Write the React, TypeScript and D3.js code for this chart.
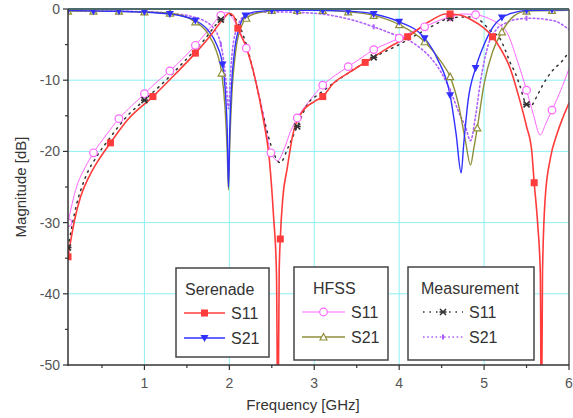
import React from "react";
import * as d3 from "d3";

// Serenade / HFSS / Measurement data, frequency in GHz, magnitude in dB
const serenadeS11: [number, number][] = [
  [0.1, -34.8], [0.18, -29.5], [0.25, -26.3], [0.35, -23.5], [0.45, -21.4], [0.6, -18.8],
  [0.8, -15.6], [1.1, -12.3], [1.35, -9.3], [1.6, -6.2], [1.8, -3.4], [1.92, -1.5],
  [2.0, -0.6], [2.05, -1.0], [2.1, -2.7], [2.2, -5.4], [2.3, -9.6], [2.4, -15.5],
  [2.47, -21], [2.52, -29], [2.555, -37], [2.572, -60], [2.587, -37], [2.6, -32.3],
  [2.63, -26.5], [2.68, -22.5], [2.75, -17.5], [2.85, -14.6], [3.0, -13], [3.1, -12.3],
  [3.22, -10.5], [3.4, -9], [3.6, -7.5], [3.85, -5.6], [4.1, -3.9], [4.35, -1.8],
  [4.55, -0.7], [4.7, -0.8], [4.85, -1.5], [5.0, -2.7], [5.1, -3.9], [5.2, -5.7],
  [5.3, -8.1], [5.42, -12.8], [5.5, -16.5], [5.56, -19.8], [5.59, -24.4], [5.63, -30],
  [5.662, -37], [5.675, -60], [5.688, -37], [5.72, -26.5], [5.78, -21], [5.86, -17.5],
  [5.93, -15.2], [6.0, -13.2],
];
const serenadeS21: [number, number][] = [
  [0.1, -0.2], [0.5, -0.3], [0.9, -0.4], [1.2, -0.6], [1.4, -0.9], [1.6, -1.6],
  [1.75, -3], [1.85, -5], [1.92, -7.8], [1.955, -12], [1.975, -17], [1.99, -25],
  [2.005, -17], [2.025, -11], [2.06, -6], [2.12, -2.5], [2.19, -0.9], [2.3, -0.4],
  [2.6, -0.2], [3.0, -0.2], [3.4, -0.3], [3.7, -0.7], [4.0, -1.8], [4.3, -4.1],
  [4.45, -7], [4.6, -12.1], [4.67, -17.5], [4.73, -23], [4.76, -19], [4.81, -13],
  [4.9, -8.3], [5.0, -5], [5.1, -2.6], [5.21, -1.2], [5.35, -0.5], [5.5, -0.2], [6.0, -0.1],
];
const hfssS11: [number, number][] = [
  [0.1, -30], [0.2, -25], [0.3, -22.3], [0.4, -20.2], [0.55, -17.7], [0.7, -15.4],
  [0.85, -13.6], [1.0, -11.9], [1.15, -10.2], [1.3, -8.7], [1.45, -7], [1.6, -5.1],
  [1.75, -3], [1.9, -0.9], [1.97, -0.5], [2.05, -1.5], [2.2, -5.5], [2.3, -9.5],
  [2.4, -14.8], [2.49, -20.2], [2.57, -21.3], [2.65, -19.5], [2.72, -17.2], [2.8, -15.3],
  [2.95, -12.8], [3.1, -10.7], [3.25, -9.3], [3.4, -8.1], [3.55, -6.9], [3.7, -5.7],
  [3.85, -4.9], [4.0, -4.1], [4.15, -3.2], [4.3, -2.5], [4.45, -1.7], [4.6, -1.1],
  [4.75, -0.7], [4.9, -0.8], [5.05, -1.3], [5.18, -2.2], [5.27, -3.3], [5.39, -7.2],
  [5.5, -11.4], [5.58, -14.8], [5.66, -17.7], [5.73, -16], [5.8, -14.2], [5.9, -11.5],
  [6.0, -8.4],
];
const hfssS21: [number, number][] = [
  [0.1, -0.3], [0.5, -0.3], [0.9, -0.4], [1.3, -0.6], [1.6, -1.8], [1.75, -3.5],
  [1.85, -6], [1.91, -9], [1.95, -14], [1.975, -20], [1.99, -25.4], [2.005, -19],
  [2.03, -12], [2.08, -5.5], [2.14, -2.5], [2.2, -1.3], [2.35, -0.5], [2.6, -0.2],
  [3.0, -0.2], [3.4, -0.4], [3.7, -0.9], [4.0, -2.2], [4.3, -4.6], [4.5, -7.5],
  [4.6, -9.5], [4.7, -13.5], [4.78, -18.5], [4.84, -21.9], [4.88, -19.5], [4.92, -16.7],
  [5.0, -10.5], [5.1, -6], [5.21, -3.2], [5.35, -1], [5.5, -0.3], [6.0, -0.2],
];
const measS11: [number, number][] = [
  [0.1, -33.5], [0.2, -27.5], [0.3, -23.8], [0.45, -20.5], [0.6, -18], [0.8, -15],
  [1.0, -12.8], [1.2, -10.6], [1.45, -7.6], [1.7, -4.4], [1.9, -1.5], [2.0, -0.8],
  [2.08, -1.5], [2.2, -5], [2.32, -10.7], [2.42, -16], [2.5, -19.5], [2.6, -21.6],
  [2.69, -19.5], [2.8, -16.5], [2.93, -13.2], [3.05, -12], [3.3, -9.8], [3.7, -6.8],
  [4.0, -5], [4.3, -3], [4.6, -1.3], [4.8, -1.1], [4.95, -1.6], [5.07, -3],
  [5.19, -4.2], [5.25, -5.8], [5.31, -7.6], [5.36, -8.8], [5.42, -10.7], [5.49, -13.2],
  [5.55, -13.6], [5.62, -12.3], [5.68, -10.9], [5.74, -9.7], [5.81, -8.6], [5.92, -7.3],
  [6.0, -6.0],
];
const measS21: [number, number][] = [
  [0.1, -0.3], [0.6, -0.3], [1.0, -0.4], [1.3, -0.6], [1.6, -1.2], [1.8, -2.5],
  [1.9, -5], [1.96, -10], [1.99, -14], [2.02, -8], [2.08, -3], [2.2, -0.8],
  [2.5, -0.4], [3.0, -0.6], [3.4, -1.4], [3.7, -2.5], [3.9, -3.4], [4.1, -4.3],
  [4.25, -5.5], [4.36, -6.7], [4.5, -9], [4.62, -12], [4.72, -15], [4.78, -16.5],
  [4.84, -18.5], [4.9, -15], [4.96, -10], [5.05, -5], [5.15, -2.8], [5.25, -2],
  [5.36, -1.5], [5.55, -1.3], [5.75, -1.5], [5.86, -1.8], [6.0, -2.9],
];

// marker positions on each curve
const serenadeS11Marks: [number, number][] = [
  [0.1, -34.8], [0.6, -18.8], [1.1, -12.3], [1.6, -6.2], [2.1, -2.7], [2.6, -32.3],
  [3.1, -12.3], [3.6, -7.5], [4.1, -3.9], [4.6, -0.7], [5.1, -3.9], [5.59, -24.4],
];
const serenadeS21Marks: [number, number][] = [
  [0.1, -0.2], [0.4, -0.3], [0.7, -0.3], [1.0, -0.4], [1.3, -0.7], [1.6, -1.6],
  [1.92, -7.8], [2.19, -0.9], [2.5, -0.2], [2.8, -0.2], [3.1, -0.2], [3.4, -0.3],
  [3.7, -0.7], [4.0, -1.8], [4.3, -4.1], [4.6, -12.1], [4.9, -8.3], [5.21, -1.2],
  [5.5, -0.2], [5.8, -0.1],
];
const hfssS11Marks: [number, number][] = [
  [0.1, -30], [0.4, -20.2], [0.7, -15.4], [1.0, -11.9], [1.3, -8.7], [1.6, -5.1],
  [1.9, -0.9], [2.2, -5.5], [2.49, -20.2], [2.8, -15.3], [3.1, -10.7], [3.4, -8.1],
  [3.7, -5.7], [4.0, -4.1], [4.3, -2.5], [4.6, -1.1], [4.9, -0.8], [5.5, -11.4],
  [5.8, -14.2],
];
const hfssS21Marks: [number, number][] = [
  [0.1, -0.3], [0.4, -0.3], [0.7, -0.3], [1.0, -0.4], [1.3, -0.6], [1.6, -1.8],
  [1.91, -9], [2.2, -1.3], [2.5, -0.2], [2.8, -0.2], [3.1, -0.2], [3.4, -0.4],
  [3.7, -0.9], [4.0, -2.2], [4.3, -4.6], [4.6, -9.5], [4.92, -16.7], [5.21, -3.2],
  [5.5, -0.3], [5.8, -0.2],
];
const measS11Marks: [number, number][] = [
  [0.1, -33.5], [1.0, -12.8], [1.9, -1.5], [2.8, -16.5], [3.7, -6.8], [4.6, -1.3], [5.5, -13.4],
];
const measS21Marks: [number, number][] = [
  [0.1, -0.3], [1.0, -0.4], [1.9, -5], [2.8, -0.5], [3.7, -2.5], [4.6, -11.5], [5.5, -1.3],
];

const legendGroups = ["Serenade", "HFSS", "Measurement"];
const legendRows = ["S11", "S21"];

const RED = "#ff3b3b";
const BLUE = "#3030ff";
const MAGENTA = "#ff66ff";
const OLIVE = "#8f8f3a";
const BLACK = "#333333";
const PURPLE = "#b060ff";
const GRID = "#8ef0f4";
const FONT = "'Liberation Sans', Arial, sans-serif";

const width = 573;
const height = 418;
const margin = { top: 9, right: 4, bottom: 53, left: 68 };

type Shape = "square" | "tdown" | "circle" | "tup" | "star" | "dot";

const Marker = ({ shape, cx, cy, color }: { shape: Shape; cx: number; cy: number; color: string }) => {
  if (shape === "square")
    return <rect x={cx - 3.5} y={cy - 3.5} width={7} height={7} fill={color} />;
  if (shape === "tdown")
    return <path d={`M${cx - 4},${cy - 3}L${cx + 4},${cy - 3}L${cx},${cy + 4}Z`} fill={color} />;
  if (shape === "tup")
    return (
      <path d={`M${cx - 3.5},${cy + 3}L${cx + 3.5},${cy + 3}L${cx},${cy - 3.5}Z`}
        fill="white" stroke={color} strokeWidth={1.2} />
    );
  if (shape === "circle")
    return <circle cx={cx} cy={cy} r={3.8} fill="white" stroke={color} strokeWidth={1.2} />;
  if (shape === "star")
    return (
      <g stroke={color} strokeWidth={1.6}>
        <line x1={cx - 3} y1={cy - 3} x2={cx + 3} y2={cy + 3} />
        <line x1={cx - 3} y1={cy + 3} x2={cx + 3} y2={cy - 3} />
        <line x1={cx - 3.5} y1={cy} x2={cx + 3.5} y2={cy} />
      </g>
    );
  return <rect x={cx - 1} y={cy - 2.5} width={2} height={5} fill={color} />;
};

const App = () => {
  const x = d3.scaleLinear().domain([0.1, 6]).range([margin.left, width - margin.right]);
  const y = d3.scaleLinear().domain([-50, 0]).range([height - margin.bottom, margin.top]);

  const line = d3
    .line<[number, number]>()
    .x((d) => x(d[0]))
    .y((d) => y(d[1]))
    .curve(d3.curveMonotoneX);

  const xMajor = x.ticks(6);
  const xMinor = x.ticks(12).filter((t) => !Number.isInteger(t));
  const yMajor = y.ticks(5);
  const yMinor = y.ticks(10).filter((t) => t % 10 !== 0);

  const series = [
    { data: measS21, marks: measS21Marks, color: PURPLE, width: 1.6, dash: "1.6,2.6", shape: "dot" as Shape },
    { data: hfssS11, marks: hfssS11Marks, color: MAGENTA, width: 1, dash: undefined, shape: "circle" as Shape },
    { data: measS11, marks: measS11Marks, color: BLACK, width: 1.5, dash: "1.5,5", shape: "star" as Shape },
    { data: hfssS21, marks: hfssS21Marks, color: OLIVE, width: 1.4, dash: undefined, shape: "tup" as Shape },
    { data: serenadeS21, marks: serenadeS21Marks, color: BLUE, width: 1.4, dash: undefined, shape: "tdown" as Shape },
    { data: serenadeS11, marks: serenadeS11Marks, color: RED, width: 1.6, dash: undefined, shape: "square" as Shape },
  ];

  // legend: [group][row] styles
  const legendStyles = [
    [series[5], series[4]],
    [series[1], series[3]],
    [series[2], series[0]],
  ];
  const legendBoxes = [
    { x: 176, y: 268, w: 93, h: 89, titleX: 185, lineX: 184, lineW: 41 },
    { x: 294, y: 267, w: 94, h: 93, titleX: 313, lineX: 302, lineW: 43 },
    { x: 408, y: 267, w: 126, h: 93, titleX: 421, lineX: 423, lineW: 40 },
  ];

  const x0 = margin.left;
  const x1 = width - margin.right;
  const y0 = height - margin.bottom;
  const y1 = margin.top;

  return (
    <svg width={width} height={height} style={{ position: "absolute", left: 0, top: 0, background: "white" }}
      fontFamily={FONT}>
      <defs>
        <clipPath id="plot">
          <rect x={x0} y={y1} width={x1 - x0} height={y0 - y1} />
        </clipPath>
      </defs>

      {/* grid */}
      {xMajor.filter((t) => t < 6).map((t) => (
        <line key={`gx${t}`} x1={x(t)} x2={x(t)} y1={y1} y2={y0} stroke={GRID} strokeWidth={1} />
      ))}
      {yMajor.filter((t) => t < 0 && t > -50).map((t) => (
        <line key={`gy${t}`} x1={x0} x2={x1} y1={y(t)} y2={y(t)} stroke={GRID} strokeWidth={1} />
      ))}

      {/* curves */}
      <g clipPath="url(#plot)">
        {series.map((s, i) => (
          <path key={`l${i}`} d={line(s.data) ?? ""} fill="none" stroke={s.color}
            strokeWidth={s.width} strokeDasharray={s.dash} strokeLinecap="round" />
        ))}
        {series.map((s, i) =>
          s.marks.map((m, j) => (
            <Marker key={`m${i}-${j}`} shape={s.shape} cx={x(m[0])} cy={y(m[1])} color={s.color} />
          ))
        )}
      </g>

      {/* frame */}
      <line x1={x0} x2={x1} y1={y1} y2={y1} stroke="#4f6a6a" strokeWidth={2} />
      <line x1={x1} x2={x1} y1={y1} y2={y0} stroke="#555" strokeWidth={1.5} />
      <line x1={x0} x2={x0} y1={y1} y2={y0 + 1} stroke="#333" strokeWidth={1.5} />
      <line x1={x0} x2={x1} y1={y0} y2={y0} stroke="#333" strokeWidth={1.5} />

      {/* y axis ticks */}
      {yMajor.map((t) => (
        <g key={`yt${t}`}>
          <line x1={x0 - 5} x2={x0} y1={y(t)} y2={y(t)} stroke="#333" strokeWidth={1.2} />
          <text x={x0 - 8} y={y(t)} dy="0.35em" textAnchor="end" fontSize={14} fill="#555">
            {t}
          </text>
        </g>
      ))}
      {yMinor.map((t) => (
        <line key={`ym${t}`} x1={x0 - 3} x2={x0} y1={y(t)} y2={y(t)} stroke="#333" strokeWidth={1.2} />
      ))}

      {/* x axis ticks */}
      {xMajor.map((t) => (
        <g key={`xt${t}`}>
          <line x1={x(t)} x2={x(t)} y1={y0} y2={y0 + 5} stroke="#333" strokeWidth={1.2} />
          <text x={x(t)} y={y0 + 23} textAnchor="middle" fontSize={14} fill="#555">
            {t}
          </text>
        </g>
      ))}
      {xMinor.map((t) => (
        <line key={`xm${t}`} x1={x(t)} x2={x(t)} y1={y0} y2={y0 + 3} stroke="#333" strokeWidth={1.2} />
      ))}

      {/* axis titles */}
      <text x={303} y={410} textAnchor="middle" fontSize={15} fill="#333">
        Frequency [GHz]
      </text>
      <text transform="translate(26,187) rotate(-90)" textAnchor="middle" fontSize={15} fill="#333">
        Magnitude [dB]
      </text>

      {/* legends */}
      {legendBoxes.map((b, gi) => (
        <g key={`lg${gi}`}>
          <rect x={b.x} y={b.y} width={b.w} height={b.h} fill="white" stroke="#444" strokeWidth={1.5} />
          <text x={b.titleX} y={b.y + 27} fontSize={16} fill="#333">
            {legendGroups[gi]}
          </text>
          {legendRows.map((r, ri) => {
            const s = legendStyles[gi][ri];
            const cy = b.y + 45 + ri * 25;
            return (
              <g key={`lr${gi}${ri}`}>
                <line x1={b.lineX} x2={b.lineX + b.lineW} y1={cy} y2={cy} stroke={s.color}
                  strokeWidth={s.width} strokeDasharray={s.dash} />
                <Marker shape={s.shape} cx={b.lineX + b.lineW / 2} cy={cy} color={s.color} />
                <text x={b.lineX + b.lineW + 6} y={cy} dy="0.36em" fontSize={16} fill="#333">
                  {r}
                </text>
              </g>
            );
          })}
        </g>
      ))}
    </svg>
  );
};

export default App;
